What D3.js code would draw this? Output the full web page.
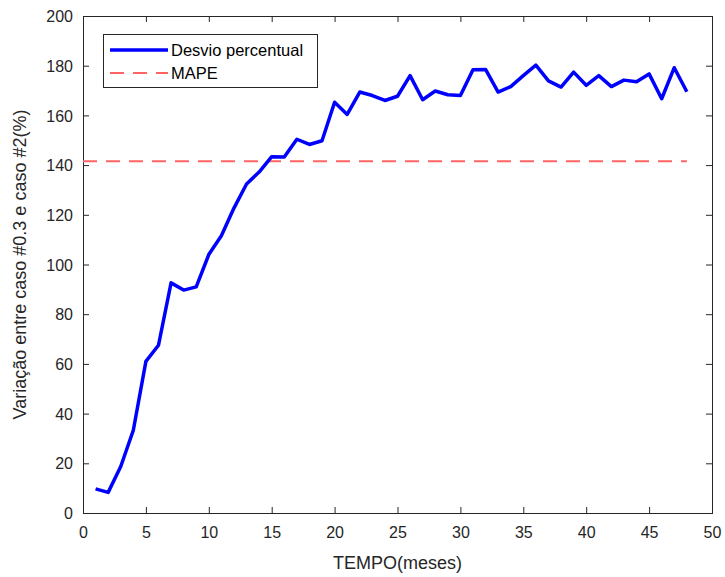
<!DOCTYPE html>
<html>
<head>
<meta charset="utf-8">
<script src="https://cdn.jsdelivr.net/npm/d3@7"></script>
<style>
  html, body { margin: 0; padding: 0; background: #fff; }
  svg { display: block; font-family: "Liberation Sans", Arial, Helvetica, sans-serif; }
</style>
</head>
<body>
<svg id="chart" width="725" height="577"></svg>
<script>
// Month index (x) and percentage deviation between the two cases (y)
const months = d3.range(1, 49);
const deviation = [
  9.7, 8.3, 18.7, 33.3, 61.0, 67.5, 92.6, 89.7, 91.0, 104.0,
  111.6, 122.7, 132.4, 137.2, 143.4, 143.3, 150.4, 148.3, 149.8, 165.3,
  160.4, 169.4, 168.0, 166.0, 167.7, 176.0, 166.3, 169.8, 168.3, 168.0,
  178.4, 178.5, 169.4, 171.6, 176.0, 180.2, 173.9, 171.4, 177.4, 172.1,
  176.0, 171.6, 174.2, 173.5, 176.7, 166.7, 179.2, 169.5
];
// Mean absolute percentage error, drawn as a constant reference line
const mapeValue = 141.5;
const mapeRange = [0, 48];

const xTicks = d3.range(0, 51, 5);
const yTicks = d3.range(0, 201, 20);

const seriesNames = ["Desvio percentual", "MAPE"];
const xLabel = "TEMPO(meses)";
const yLabel = "Variação entre caso #0.3 e caso #2(%)";

const svg = d3.select("#chart");
const plotLeft = 83, plotRight = 712, plotTop = 16, plotBottom = 513;
const axisColor = "#262626";

const x = d3.scaleLinear().domain([0, 50]).range([plotLeft, plotRight]);
const y = d3.scaleLinear().domain([0, 200]).range([plotBottom, plotTop]);

// Bottom and left axes with inward ticks
const tickLen = 6;
const xAxis = svg.append("g")
  .attr("transform", `translate(0,${plotBottom})`)
  .call(d3.axisBottom(x).tickValues(xTicks).tickSizeInner(-tickLen).tickSizeOuter(0).tickPadding(14));
const yAxis = svg.append("g")
  .attr("transform", `translate(${plotLeft},0)`)
  .call(d3.axisLeft(y).tickValues(yTicks).tickSizeInner(-tickLen).tickSizeOuter(0).tickPadding(10));

// Mirrored ticks on the top and right edges
svg.append("g")
  .attr("transform", `translate(0,${plotTop})`)
  .call(d3.axisTop(x).tickValues(xTicks).tickSizeInner(-tickLen).tickSizeOuter(0).tickFormat(""));
svg.append("g")
  .attr("transform", `translate(${plotRight},0)`)
  .call(d3.axisRight(y).tickValues(yTicks).tickSizeInner(-tickLen).tickSizeOuter(0).tickFormat(""));

svg.selectAll(".domain").remove();
svg.selectAll(".tick line").attr("stroke", axisColor).attr("stroke-width", 1);
svg.selectAll(".tick text")
  .attr("fill", axisColor)
  .style("font-size", "16px")
  .style("font-family", "\"Liberation Sans\", Arial, sans-serif");
yAxis.selectAll(".tick text").attr("dy", "0.35em");

// Box around the plot area
svg.append("rect")
  .attr("x", plotLeft + 0.5).attr("y", plotTop + 0.5)
  .attr("width", plotRight - plotLeft).attr("height", plotBottom - plotTop)
  .attr("fill", "none").attr("stroke", axisColor).attr("stroke-width", 1);

// MAPE reference line
svg.append("line")
  .attr("x1", x(mapeRange[0])).attr("x2", x(mapeRange[1]))
  .attr("y1", y(mapeValue)).attr("y2", y(mapeValue))
  .attr("stroke", "#ff6464").attr("stroke-width", 2)
  .attr("stroke-dasharray", "14,9");

// Deviation series
const line = d3.line().x((d, i) => x(months[i])).y(d => y(d));
svg.append("path")
  .datum(deviation)
  .attr("d", line)
  .attr("fill", "none")
  .attr("stroke", "#0000ff")
  .attr("stroke-width", 3.5)
  .attr("stroke-linejoin", "round");

// Axis titles
svg.append("text")
  .attr("x", (plotLeft + plotRight) / 2).attr("y", 569)
  .attr("text-anchor", "middle")
  .attr("fill", axisColor)
  .style("font-size", "18px")
  .text(xLabel);
svg.append("text")
  .attr("transform", `translate(26,${(plotTop + plotBottom) / 2}) rotate(-90)`)
  .attr("text-anchor", "middle")
  .attr("fill", axisColor)
  .style("font-size", "18px")
  .text(yLabel);

// Legend
const legend = svg.append("g");
legend.append("rect")
  .attr("x", 103.5).attr("y", 34.5).attr("width", 214).attr("height", 53)
  .attr("fill", "#fff").attr("stroke", axisColor).attr("stroke-width", 1);
legend.append("line")
  .attr("x1", 110).attr("x2", 168).attr("y1", 50).attr("y2", 50)
  .attr("stroke", "#0000ff").attr("stroke-width", 3.5);
legend.append("line")
  .attr("x1", 110).attr("x2", 168).attr("y1", 73).attr("y2", 73)
  .attr("stroke", "#ff6464").attr("stroke-width", 2)
  .attr("stroke-dasharray", "14,9");
legend.selectAll("text.lg")
  .data(seriesNames)
  .join("text")
  .attr("class", "lg")
  .attr("x", 171).attr("y", (d, i) => 50 + i * 23)
  .attr("dy", "0.35em")
  .attr("fill", "#000")
  .style("font-size", "16.5px")
  .text(d => d);
</script>
</body>
</html>
